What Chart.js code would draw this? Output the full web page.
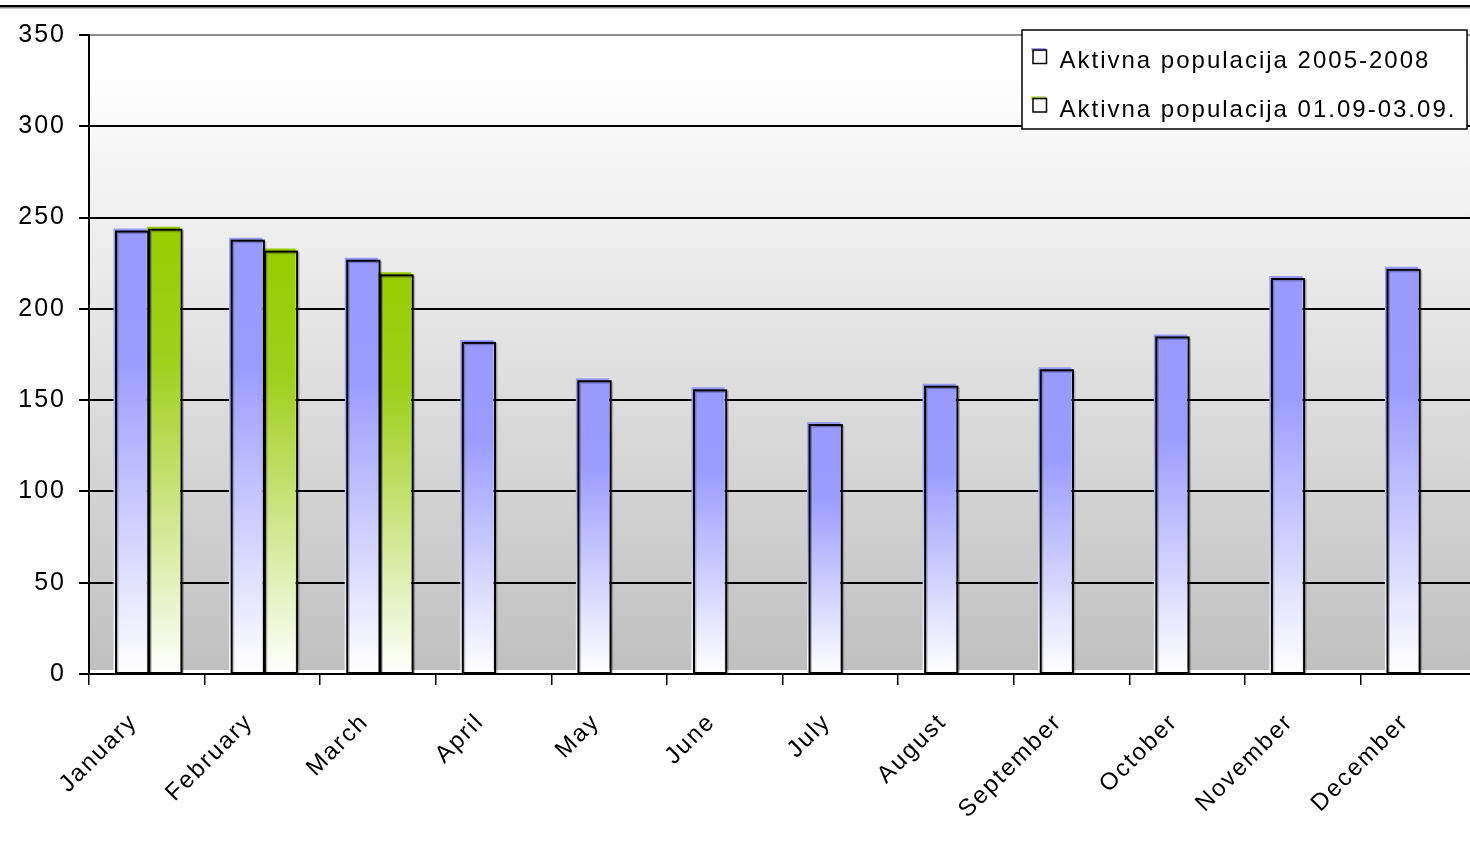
<!DOCTYPE html>
<html>
<head>
<meta charset="utf-8">
<title>Aktivna populacija</title>
<script src="https://cdn.jsdelivr.net/npm/chart.js@4.4.0/dist/chart.umd.min.js"></script>
<style>
  html, body { margin: 0; padding: 0; background: #ffffff; overflow: hidden; }
  #wrap { position: relative; width: 1476px; height: 865px; }
</style>
</head>
<body>
<div id="wrap"><canvas id="chart"></canvas></div>
<script>
// Monthly categories
const months = ['January', 'February', 'March', 'April', 'May', 'June',
                'July', 'August', 'September', 'October', 'November', 'December'];

// Series values
const active2005to2008 = [244, 239, 228, 183, 162, 157, 138, 159, 168, 186, 218, 223];
const active2009Q1     = [245, 233, 220, null, null, null, null, null, null, null, null, null];

// Series names
const seriesNames = ['Aktivna populacija 2005-2008', 'Aktivna populacija 01.09-03.09.'];

// Value axis
const yMin = 0, yMax = 350, yStep = 50;

const FONT = '"Liberation Sans", Arial, Helvetica, sans-serif';
Chart.defaults.font.family = FONT;
Chart.defaults.color = '#000000';

const palette = [
  { top: '#9999ff', hold: '#9c9cff', bottom: '#ffffff' },
  { top: '#99cc00', hold: '#a0cf1c', bottom: '#ffffff' }
];

// Each bar fades from its full colour at the top to white at the base
function barFill(dsIndex) {
  return (c) => {
    const p = palette[dsIndex];
    const chart = c.chart;
    if (!chart.chartArea || c.type !== 'data' || c.raw == null) return p.top;
    const y = chart.scales.y;
    const top = y.getPixelForValue(c.raw);
    const base = y.getPixelForValue(0);
    if (!isFinite(top) || base - top < 1) return p.top;
    const g = chart.ctx.createLinearGradient(0, top, 0, base);
    g.addColorStop(0, p.top);
    g.addColorStop(0.3, p.hold);
    g.addColorStop(1, p.bottom);
    return g;
  };
}

const SPACING = '2px';
const spacing = {
  id: 'spacing',
  beforeLayout(chart) { chart.ctx.letterSpacing = SPACING; },
  beforeDraw(chart) { chart.ctx.letterSpacing = SPACING; }
};

// Plot-area backdrop: white fading to grey, with a thin white floor strip
const backdrop = {
  id: 'backdrop',
  beforeDraw(chart) {
    const { ctx, chartArea: a } = chart;
    ctx.save();
    const g = ctx.createLinearGradient(0, a.top, 0, a.bottom - 4);
    g.addColorStop(0, '#ffffff');
    g.addColorStop(0.05, '#ffffff');
    g.addColorStop(1, '#c0c0c0');
    ctx.fillStyle = g;
    ctx.fillRect(a.left, a.top, a.right - a.left, a.bottom - 4 - a.top);
    // heavy rule along the top edge of the figure
    ctx.fillStyle = '#000000';
    ctx.fillRect(0, 5, chart.width, 2.5);
    ctx.fillStyle = '#8a8a8a';
    ctx.fillRect(0, 7.5, chart.width, 1);
    ctx.restore();
  }
};

// Offset black outline with a soft shadow around every bar
const outlines = {
  id: 'outlines',
  afterDatasetsDraw(chart) {
    const ctx = chart.ctx;
    ctx.save();
    chart.data.datasets.forEach((ds, i) => {
      const meta = chart.getDatasetMeta(i);
      meta.data.forEach((bar, j) => {
        if (ds.data[j] == null) return;
        const { x, y, base, width } = bar.getProps(['x', 'y', 'base', 'width'], true);
        const l = x - width / 2 + 2.5;
        const t = y + 3;
        ctx.lineWidth = 2;
        ctx.strokeStyle = 'rgba(0,0,0,0.22)';
        ctx.strokeRect(l + 1.5, t + 1.5, width - 1, base - t - 1.5);
        ctx.strokeStyle = '#000000';
        ctx.strokeRect(l, t, width - 1, base - t);
      });
    });
    ctx.restore();
  }
};

// Boxed legend in the upper-right corner of the plot
const boxLegend = {
  id: 'boxLegend',
  afterDraw(chart) {
    const { ctx, chartArea: a } = chart;
    const right = a.right - 9;
    const top = a.top - 5;
    const w = 445, h = 99;
    const left = right - w;
    ctx.save();
    ctx.fillStyle = '#ffffff';
    ctx.fillRect(left, top, w, h);
    ctx.lineWidth = 1.5;
    ctx.strokeStyle = '#000000';
    ctx.strokeRect(left, top, w, h);
    ctx.font = '24px ' + FONT;
    ctx.letterSpacing = SPACING;
    ctx.textBaseline = 'alphabetic';
    ctx.textAlign = 'left';
    chart.data.datasets.forEach((ds, i) => {
      const p = palette[i];
      const my = top + 18 + i * 48.5;
      const mx = left + 9;
      const g = ctx.createLinearGradient(0, my, 0, my + 15);
      g.addColorStop(0, p.top);
      g.addColorStop(0.3, '#ffffff');
      g.addColorStop(1, '#ffffff');
      ctx.fillStyle = g;
      ctx.fillRect(mx, my, 15, 15);
      ctx.lineWidth = 1.5;
      ctx.strokeStyle = '#000000';
      ctx.strokeRect(mx + 2, my + 2, 13.5, 13.5);
      ctx.fillStyle = '#000000';
      ctx.fillText(ds.label, left + 37.5, top + 37.7 + i * 49);
    });
    ctx.restore();
  }
};

new Chart(document.getElementById('chart'), {
  type: 'bar',
  data: {
    labels: months,
    datasets: [
      { label: seriesNames[0], data: active2005to2008, backgroundColor: barFill(0),
        borderWidth: 0, barPercentage: 1.0, categoryPercentage: 0.575 },
      { label: seriesNames[1], data: active2009Q1, backgroundColor: barFill(1),
        borderWidth: 0, barPercentage: 1.0, categoryPercentage: 0.575 }
    ]
  },
  options: {
    responsive: true,
    maintainAspectRatio: false,
    animation: false,
    events: [],
    layout: { padding: { top: 35, right: 0, left: 0, bottom: 0 } },
    plugins: {
      legend: { display: false },
      tooltip: { enabled: false },
      title: { display: false }
    },
    scales: {
      x: {
        offset: true,
        grid: {
          display: true, offset: true, drawOnChartArea: false, drawTicks: true,
          tickLength: 11, color: '#000000', lineWidth: 1.5
        },
        border: { display: true, color: '#000000', width: 2 },
        ticks: {
          autoSkip: false, maxRotation: 45, minRotation: 45,
          font: { size: 24 }, color: '#000000', padding: 23, labelOffset: -13
        },
        afterFit(scale) { scale.height = 191; }
      },
      y: {
        min: yMin, max: yMax,
        grid: {
          color: (c) => (c.tick && c.tick.value === yMax ? '#8c8c8c' : '#000000'),
          tickColor: '#000000',
          lineWidth: 2, tickLength: 10, drawTicks: true
        },
        border: { display: true, color: '#000000', width: 2 },
        ticks: {
          stepSize: yStep, font: { size: 25 }, color: '#000000', padding: 13
        },
        afterFit(scale) { scale.width = 89; }
      }
    }
  },
  plugins: [spacing, backdrop, outlines, boxLegend]
});
</script>
</body>
</html>
